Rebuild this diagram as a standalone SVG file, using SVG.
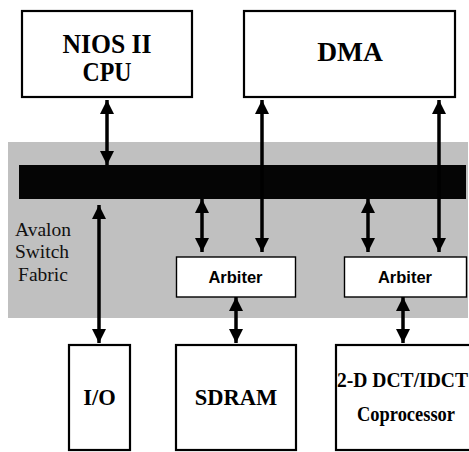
<svg xmlns="http://www.w3.org/2000/svg" width="469" height="452" viewBox="0 0 469 452">
<style>
.box{fill:#fff;stroke:#000;stroke-width:2.2}
.arb{fill:#fff;stroke:#000;stroke-width:1.4}
.tb{font-family:"Liberation Serif","Times New Roman",serif;font-weight:bold;fill:#000;text-anchor:middle}
.ts{font-family:"Liberation Sans",Arial,sans-serif;font-weight:bold;fill:#000;text-anchor:middle;font-size:16.5px}
.tr{font-family:"Liberation Serif","Times New Roman",serif;fill:#111;text-anchor:middle;font-size:19.5px}
.ar{stroke:#000;stroke-width:3.5;fill:none;marker-start:url(#ah);marker-end:url(#ah)}
</style>
<defs>
<marker id="ah" markerUnits="userSpaceOnUse" markerWidth="14" markerHeight="16" viewBox="0 0 14 16" refX="14" refY="7" orient="auto-start-reverse">
<path d="M0,0 L14,7 L0,14 Z" fill="#000"/>
</marker>
</defs>
<rect id="fabric" x="8" y="142" width="460" height="176" fill="#c0c0c0"/>
<rect id="bus" x="19" y="165" width="447" height="34" fill="#050505"/>
<text class="tr" x="43" y="236">Avalon</text>
<text class="tr" x="42" y="258">Switch</text>
<text class="tr" x="43" y="281">Fabric</text>
<g id="nios">
<rect class="box" x="22" y="11" width="170" height="86"/>
<text class="tb" x="107" y="53" font-size="27" textLength="89" lengthAdjust="spacingAndGlyphs">NIOS II</text>
<text class="tb" x="107" y="81" font-size="27" textLength="49" lengthAdjust="spacingAndGlyphs">CPU</text>
</g>
<g id="dma">
<rect class="box" x="244" y="11" width="211" height="86"/>
<text class="tb" x="350" y="61" font-size="27.5">DMA</text>
</g>
<g id="arbiter1">
<rect class="arb" x="176.5" y="257" width="119" height="40"/>
<text class="ts" x="235.5" y="283">Arbiter</text>
</g>
<g id="arbiter2">
<rect class="arb" x="344.5" y="257" width="122" height="40"/>
<text class="ts" x="405" y="283">Arbiter</text>
</g>
<g id="io">
<rect class="box" x="69" y="345" width="61" height="105"/>
<text class="tb" x="99.5" y="405" font-size="22.5">I/O</text>
</g>
<g id="sdram">
<rect class="box" x="176" y="345" width="120" height="105"/>
<text class="tb" x="236" y="405" font-size="22.5">SDRAM</text>
</g>
<g id="coproc">
<rect class="box" x="336" y="345" width="140" height="105"/>
<text class="tb" x="337" y="387" font-size="21.5" style="text-anchor:start" textLength="131" lengthAdjust="spacingAndGlyphs">2-D DCT/IDCT</text>
<text class="tb" x="406" y="421" font-size="21.5" textLength="98" lengthAdjust="spacingAndGlyphs">Coprocessor</text>
</g>
<g id="connectors">
<line class="ar" x1="107" y1="100" x2="107" y2="165"/>
<line class="ar" x1="262" y1="100" x2="262" y2="252"/>
<line class="ar" x1="439" y1="100" x2="439" y2="252"/>
<line class="ar" x1="202" y1="199" x2="202" y2="252"/>
<line class="ar" x1="368" y1="199" x2="368" y2="252"/>
<line class="ar" x1="99" y1="205" x2="99" y2="343"/>
<line class="ar" x1="236" y1="297" x2="236" y2="343"/>
<line class="ar" x1="403" y1="297" x2="403" y2="343"/>
</g>
</svg>
